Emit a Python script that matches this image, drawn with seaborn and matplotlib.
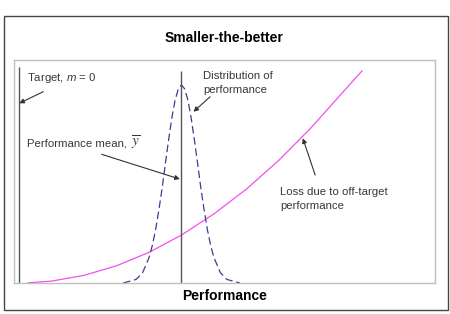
import matplotlib
matplotlib.use("Agg")
import matplotlib.pyplot as plt
import matplotlib.patches as mpatches
import seaborn as sns
import pandas as pd

# ---- data ----
target = 0.0          # m = 0
perf_mean = 5.0       # performance mean (y-bar)

dist_x = [3.2, 3.6, 3.8, 4.0, 4.1, 4.2, 4.3, 4.4, 4.5, 4.6, 4.7, 4.8, 4.9, 5.0,
          5.1, 5.2, 5.3, 5.4, 5.5, 5.6, 5.7, 5.8, 5.9, 6.0, 6.2, 6.4, 6.8]
dist_y = [0.0, 0.16, 0.46, 1.14, 1.68, 2.38, 3.25, 4.22, 5.32, 6.39, 7.38, 8.18, 8.70, 8.88,
          8.70, 8.18, 7.38, 6.39, 5.32, 4.22, 3.25, 2.38, 1.68, 1.14, 0.46, 0.16, 0.0]

loss_x = [0.27, 1, 2, 3, 4, 5, 6, 7, 8, 9, 10, 10.57]
loss_y = [0.006, 0.086, 0.344, 0.774, 1.376, 2.15, 3.10, 4.21, 5.50, 6.97, 8.6, 9.52]

target_line_top = 9.69
mean_line_top = 9.50

title = "Smaller-the-better"
xlabel = "Performance"

# ---- styling ----
sns.set_theme(style="white")
plt.rcParams["font.family"] = ["Liberation Sans", "DejaVu Sans"]
plt.rcParams["mathtext.fontset"] = "custom"
plt.rcParams["mathtext.it"] = "Liberation Sans:italic"
plt.rcParams["mathtext.rm"] = "Liberation Sans"

W, H = 450, 314
fig = plt.figure(figsize=(W / 100, H / 100), dpi=100)
fig.patch.set_facecolor("white")

# outer frame
fig.patches.append(mpatches.Rectangle((3.5 / W, 1 - 310 / H), (448 - 3.5) / W, (310 - 16) / H,
                                      transform=fig.transFigure, fill=False,
                                      edgecolor="#444444", lw=1.0))

ax = fig.add_axes([14 / W, 1 - 283 / H, (435 - 14) / W, (283 - 60) / H])
ax.set_facecolor("white")

dist_df = pd.DataFrame({"x": dist_x, "y": dist_y})
loss_df = pd.DataFrame({"x": loss_x, "y": loss_y})

sns.lineplot(data=loss_df, x="x", y="y", ax=ax, color="#f050f0", lw=0.9, sort=False)
sns.lineplot(data=dist_df, x="x", y="y", ax=ax, color="#3c3c96", lw=0.9, sort=False,
             dashes=False, linestyle=(0, (6, 3)))

ax.vlines([target], 0, target_line_top, color="#555555", lw=1.0)
ax.vlines([perf_mean], 0, mean_line_top, color="#555555", lw=1.0)

ax.set_xlim(-0.163, 12.814)
ax.set_ylim(0, 10)
ax.set_xticks([])
ax.set_yticks([])
ax.set_ylabel("")
for s in ax.spines.values():
    s.set_color("#c0c0c0")
    s.set_linewidth(1.0)

ax.set_title(title, fontsize=10, fontweight="bold", color="black", pad=13)
ax.set_xlabel(xlabel, fontsize=10, fontweight="bold", color="black", labelpad=4)

tc = "#383838"
fs = 8.2
ap = dict(arrowstyle="-|>", color="#333333", lw=0.8, mutation_scale=7, shrinkA=0, shrinkB=0)

ax.text(0.246, 9.19, "Target, $\\mathit{m}$ = $\\mathit{0}$", fontsize=fs, color=tc,
        ha="left", va="center")
ax.annotate("", xy=(0.0, 8.06), xytext=(0.74, 8.58), arrowprops=ap)

ax.text(5.66, 8.99, "Distribution of\nperformance", fontsize=fs, color=tc,
        ha="left", va="center", linespacing=1.5)
ax.annotate("", xy=(5.37, 7.68), xytext=(5.88, 8.35), arrowprops=ap)

ax.text(0.237, 6.26, "Performance mean,", fontsize=fs, color=tc,
        ha="left", va="center")
ax.text(3.45, 6.30, "$\\overline{y}$", fontsize=11, color=tc,
        ha="left", va="center", math_fontfamily="stix")
ax.annotate("", xy=(4.95, 4.66), xytext=(2.54, 5.77), arrowprops=ap)

ax.text(8.04, 3.76, "Loss due to off-target\nperformance", fontsize=fs, color=tc,
        ha="left", va="center", linespacing=1.5)
ax.annotate("", xy=(8.74, 6.49), xytext=(9.12, 4.84), arrowprops=ap)

fig.savefig("out.png", dpi=100, facecolor="white")
